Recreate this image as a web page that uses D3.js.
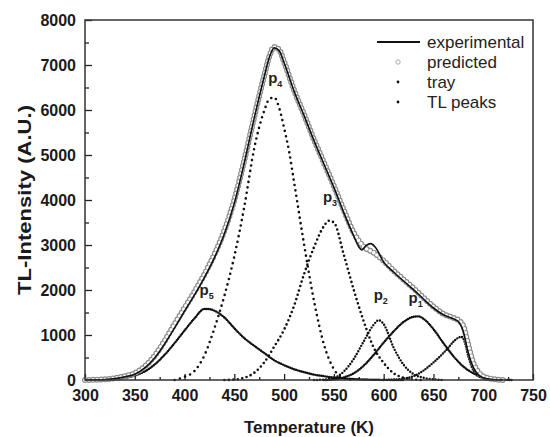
<!DOCTYPE html>
<html>
<head>
<meta charset="utf-8">
<script src="https://cdn.jsdelivr.net/npm/d3@7"></script>
<style>
  body { margin: 0; background: #fff; }
  text { font-family: "Liberation Sans", Arial, sans-serif; }
</style>
</head>
<body>
<svg id="chart" width="550" height="437"></svg>
<script>
// glow curve: [temperature K, intensity A.U.]
var experimental = [[300,0],[320,10],[330,30],[340,70],[350,130],[360,270],[370,490],[380,800],[390,1160],[400,1530],[410,1890],[420,2280],[430,2720],[440,3250],[450,3930],[460,4830],[470,5820],[480,6740],[485,7160],[490,7380],[495,7320],[500,7050],[510,6420],[520,5880],[530,5320],[540,4800],[550,4280],[560,3720],[570,3200],[575,2960],[578,2890],[582,2980],[587,3030],[592,2940],[600,2620],[610,2400],[620,2200],[630,2010],[640,1800],[650,1600],[660,1450],[670,1360],[675,1300],[680,1080],[685,600],[690,280],[695,120],[700,50],[710,10],[720,0]];
var predicted = [[300,0],[320,15],[330,40],[340,85],[350,150],[360,300],[370,540],[380,870],[390,1240],[400,1600],[410,1960],[420,2350],[430,2790],[440,3320],[450,4000],[460,4880],[470,5850],[480,6760],[485,7180],[490,7400],[495,7340],[500,7070],[510,6440],[520,5900],[530,5340],[540,4830],[550,4310],[560,3770],[570,3270],[580,2960],[590,2830],[600,2650],[610,2430],[620,2230],[630,2040],[640,1830],[650,1630],[660,1470],[670,1380],[675,1330],[680,1200],[685,780],[690,380],[695,180],[700,80],[710,20],[720,0]];

// fitted TL peaks
var p5 = [[300,0],[320,5],[330,15],[340,45],[350,100],[360,190],[370,345],[380,560],[390,820],[400,1100],[410,1370],[420,1580],[425,1575],[430,1540],[440,1390],[450,1150],[460,930],[470,760],[480,600],[490,440],[500,330],[510,240],[520,175],[530,120],[540,85],[550,55],[560,35],[580,12],[600,3],[620,0]];
var p4 = [[390,0],[400,70],[410,200],[420,550],[430,1150],[440,1870],[450,2750],[460,3850],[470,5150],[480,5980],[485,6240],[490,6280],[495,6050],[500,5600],[505,5080],[510,4400],[520,3020],[530,1760],[540,790],[550,240],[560,40],[570,0]];
var p3 = [[440,0],[450,10],[460,50],[470,160],[480,390],[490,740],[500,1120],[510,1650],[520,2350],[530,2950],[540,3420],[545,3540],[550,3500],[560,2780],[570,2000],[580,1300],[590,720],[600,380],[610,150],[620,50],[630,10],[640,0]];
var p2 = [[530,0],[540,10],[550,45],[560,190],[570,470],[580,860],[590,1230],[595,1330],[600,1240],[610,720],[620,340],[630,130],[640,50],[650,15],[660,0]];
var p1 = [[540,0],[550,15],[560,60],[570,150],[580,320],[590,560],[600,830],[610,1080],[620,1290],[630,1405],[635,1415],[640,1360],[650,1130],[660,820],[670,530],[680,300],[690,150],[700,70],[710,25],[720,5],[730,0]];
var tray = [[600,0],[610,10],[620,30],[630,85],[640,210],[650,390],[660,600],[665,720],[670,850],[675,940],[678,960],[681,870],[685,530],[688,320],[693,120],[700,40],[710,5],[720,0]];

var xMajor = [300,350,400,450,500,550,600,650,700,750];
var yMajor = [0,1000,2000,3000,4000,5000,6000,7000,8000];
var legendNames = ["experimental","predicted","tray","TL peaks"];
var peakNames = ["5","4","3","2","1"];
var peakLabelAt = [[419,1890],[488,6610],[543,3955],[594,1780],[629,1715]];

var svg = d3.select("#chart");
var mLeft = 85, mRight = 533, mTop = 20, mBottom = 380;

var x = d3.scaleLinear().domain([300,750]).range([mLeft,mRight]);
var y = d3.scaleLinear().domain([0,8000]).range([mBottom,mTop]);

var line = d3.line()
    .x(function(d){ return x(d[0]); })
    .y(function(d){ return y(d[1]); })
    .curve(d3.curveMonotoneX);

// axes, ticks point inward
svg.append("g")
    .attr("transform","translate(0,"+mBottom+")")
    .call(d3.axisBottom(x).tickValues(d3.range(325,750,50)).tickSize(-3).tickFormat(""));
svg.append("g")
    .attr("transform","translate(0,"+mBottom+")")
    .call(d3.axisBottom(x).tickValues(xMajor).tickSize(-6).tickPadding(10).tickFormat(d3.format("d")));
svg.append("g")
    .attr("transform","translate("+mLeft+",0)")
    .call(d3.axisLeft(y).tickValues(d3.range(500,8000,1000)).tickSize(-4).tickFormat(""));
svg.append("g")
    .attr("transform","translate("+mLeft+",0)")
    .call(d3.axisLeft(y).tickValues(yMajor).tickSize(-7).tickPadding(9).tickFormat(d3.format("d")));

svg.selectAll(".domain").remove();
svg.selectAll(".tick line").attr("stroke","#222").attr("stroke-width",1.3);
svg.selectAll(".tick text")
    .attr("font-family","Liberation Sans, Arial, sans-serif")
    .attr("font-size",16).attr("font-weight","bold").attr("fill","#1a1a1a");

// peaks as dotted curves
function dotted(data, gap, w) {
  svg.append("path").datum(data)
    .attr("d", line)
    .attr("fill","none").attr("stroke","#111")
    .attr("stroke-width", w)
    .attr("stroke-linecap","round")
    .attr("stroke-dasharray","0 "+gap);
}
dotted(p5, 2, 2.4);
dotted(p4, 5.5, 2.6);
dotted(p3, 4.5, 2.6);
dotted(p2, 3, 2.4);
dotted(p1, 2, 2.4);
dotted(tray, 2.6, 2.4);

// predicted: open grey circles along the curve
svg.append("path").datum(predicted)
    .attr("d", line).attr("fill","none")
    .attr("stroke","#8c8c8c").attr("stroke-width",6)
    .attr("stroke-linecap","round").attr("stroke-dasharray","0 4");
svg.append("path").datum(predicted)
    .attr("d", line).attr("fill","none")
    .attr("stroke","#fff").attr("stroke-width",3.6)
    .attr("stroke-linecap","round").attr("stroke-dasharray","0 4");

// experimental
svg.append("path").datum(experimental)
    .attr("d", line).attr("fill","none")
    .attr("stroke","#111").attr("stroke-width",1.6);

// frame
svg.append("rect")
    .attr("x",mLeft).attr("y",mTop)
    .attr("width",mRight-mLeft).attr("height",mBottom-mTop)
    .attr("fill","none").attr("stroke","#333").attr("stroke-width",1.5);

// peak labels
peakNames.forEach(function(n,i){
  var t = svg.append("text")
      .attr("x", x(peakLabelAt[i][0])-4)
      .attr("y", y(peakLabelAt[i][1]))
      .attr("font-size",15).attr("font-weight","bold").attr("fill","#222");
  t.append("tspan").text("p");
  t.append("tspan").attr("dy",4).attr("font-size",9).text(n);
});

// legend
var lg = svg.append("g").attr("transform","translate(377,42)");
legendNames.forEach(function(n,i){
  lg.append("text").attr("x",50).attr("y",i*20+5.5)
    .attr("font-size",17).attr("fill","#222").text(n);
});
lg.append("line").attr("x1",0).attr("x2",43).attr("y1",0).attr("y2",0)
    .attr("stroke","#111").attr("stroke-width",2);
lg.append("circle").attr("cx",21).attr("cy",20).attr("r",2.2)
    .attr("fill","#fff").attr("stroke","#aaa").attr("stroke-width",1);
lg.append("circle").attr("cx",21).attr("cy",40).attr("r",1.4).attr("fill","#111");
lg.append("circle").attr("cx",21).attr("cy",60).attr("r",1.4).attr("fill","#111");

// axis titles
svg.append("text")
    .attr("x",(mLeft+mRight)/2).attr("y",433)
    .attr("text-anchor","middle")
    .attr("font-size",17).attr("font-weight","bold").attr("fill","#1a1a1a")
    .text("Temperature (K)");
svg.append("text")
    .attr("transform","translate(31,200) rotate(-90)")
    .attr("text-anchor","middle")
    .attr("font-size",18).attr("font-weight","bold").attr("fill","#1a1a1a")
    .attr("textLength",190).attr("lengthAdjust","spacingAndGlyphs")
    .text("TL-Intensity (A.U.)");
</script>
</body>
</html>
